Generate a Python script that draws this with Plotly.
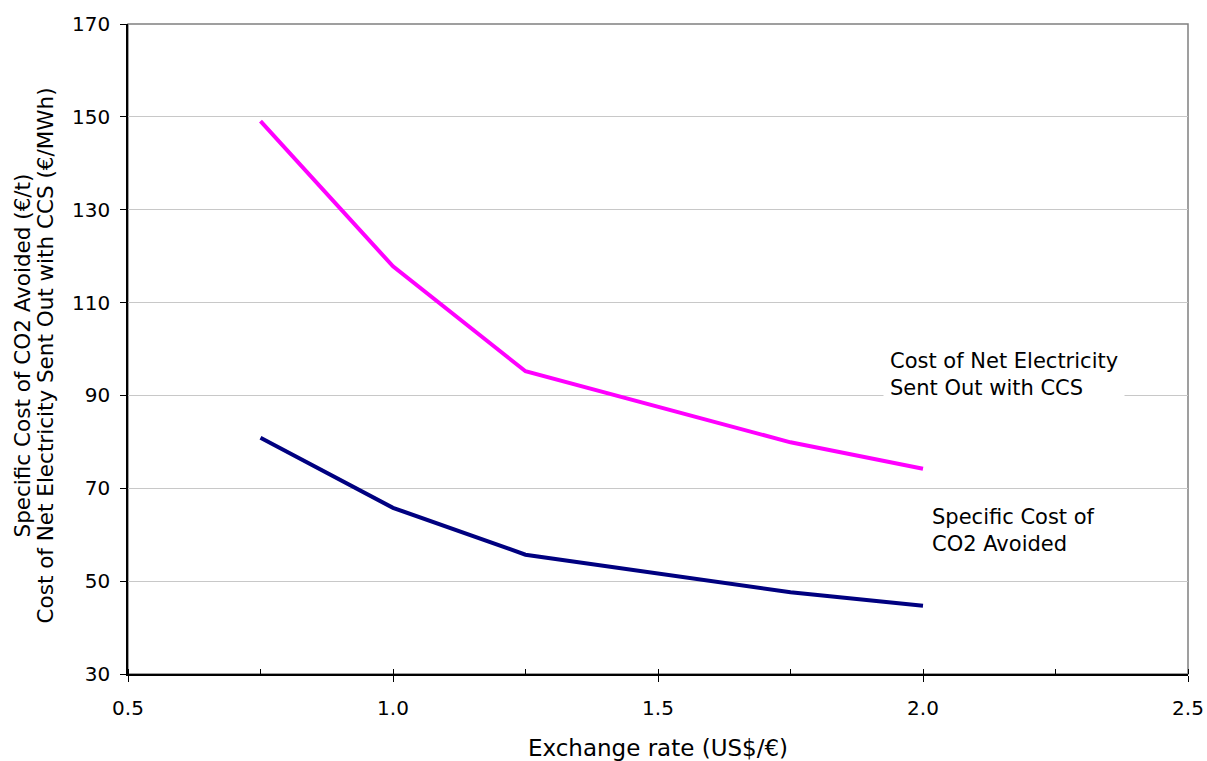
import plotly.graph_objects as go

exchange_rate = [0.75, 1.0, 1.25, 1.5, 1.75, 2.0]
cost_electricity = [149.1, 117.8, 95.2, 87.5, 79.9, 74.2]
cost_co2_avoided = [80.9, 65.8, 55.7, 51.6, 47.6, 44.7]

x_ticks = [0.5, 1.0, 1.5, 2.0, 2.5]
x_tick_labels = ["0.5", "1.0", "1.5", "2.0", "2.5"]
y_ticks = [30, 50, 70, 90, 110, 130, 150, 170]

y_title_lines = ["Specific Cost of CO2 Avoided (€/t)",
                 "Cost of Net Electricity Sent Out with CCS (€/MWh)"]

FONT = "DejaVu Sans"

fig = go.Figure()
fig.add_trace(go.Scatter(x=exchange_rate, y=cost_electricity, mode="lines",
                         line=dict(color="#FF00FF", width=4), showlegend=False))
fig.add_trace(go.Scatter(x=exchange_rate, y=cost_co2_avoided, mode="lines",
                         line=dict(color="#000080", width=4), showlegend=False))

fig.update_layout(
    width=1207, height=761,
    margin=dict(l=128, r=19, t=24, b=87),
    paper_bgcolor="white", plot_bgcolor="white",
    font=dict(family=FONT, color="black", size=20),
    xaxis=dict(
        range=[0.5, 2.5], tickvals=x_ticks, ticktext=x_tick_labels,
        showgrid=False, zeroline=False, automargin=False,
        showline=True, linecolor="black", linewidth=1.5,
        ticks="outside", ticklen=6, tickcolor="black", tickwidth=1,
        tickfont=dict(size=20), ticklabelstandoff=9,
        minor=dict(dtick=0.25, tick0=0.5, ticks="inside", ticklen=5, tickcolor="black", showgrid=False),
        title=dict(text="Exchange rate (US$/€)", font=dict(size=23), standoff=24),
    ),
    yaxis=dict(
        range=[30, 170], tickvals=y_ticks,
        showgrid=True, gridcolor="#c8c8c8", gridwidth=1, zeroline=False, automargin=False,
        showline=True, linecolor="black", linewidth=1.5,
        ticks="outside", ticklen=6, tickcolor="black",
        tickfont=dict(size=20), ticklabelstandoff=6,
    ),
)

fig.add_shape(type="rect", xref="paper", yref="paper", x0=0, x1=1, y0=0, y1=1,
              line=dict(color="#808080", width=1.5), layer="below")

# two-line rotated y-axis title
for xpos, line in zip([-0.1, -0.0774], y_title_lines):
    fig.add_annotation(x=xpos, y=0.49, xref="paper", yref="paper",
                       xanchor="center", yanchor="middle", textangle=-90,
                       text=line, showarrow=False,
                       font=dict(size=21.5, family=FONT, color="black"))

fig.add_annotation(x=1.925, y=94.5, xref="x", yref="y", xanchor="left", yanchor="middle",
                   text="Cost of Net Electricity<br>Sent Out with CCS", align="left",
                   showarrow=False, bgcolor="white", borderpad=6,
                   font=dict(size=21, family=FONT, color="black"))
fig.add_annotation(x=2.007, y=60.9, xref="x", yref="y", xanchor="left", yanchor="middle",
                   text="Specific Cost of<br>CO2 Avoided", align="left",
                   showarrow=False, bgcolor="white", borderpad=4,
                   font=dict(size=21, family=FONT, color="black"))

fig.write_html("out.html", config={"displayModeBar": False},
               post_script="document.body.style.margin='0';document.body.style.overflow='hidden';")
